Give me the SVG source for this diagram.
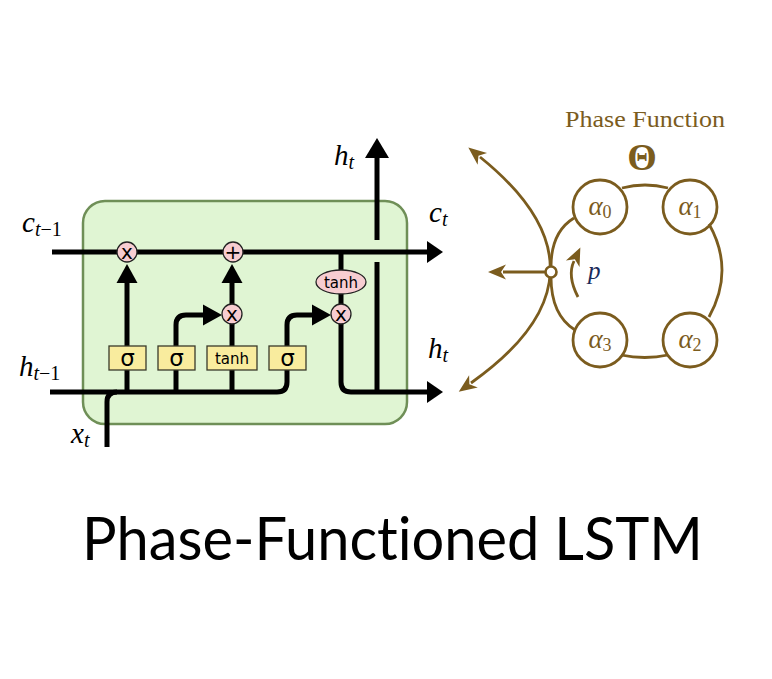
<svg xmlns="http://www.w3.org/2000/svg" width="772" height="679" viewBox="0 0 772 679">
<style>
.ln{fill:none;stroke:#000;stroke-width:5;stroke-linecap:butt}
.gate{fill:#f9ec9e;stroke:#3a3a2a;stroke-width:1.3}
.op{fill:#f7cdd1;stroke:#222;stroke-width:1.3}
.gt{font-family:"DejaVu Sans",sans-serif;fill:#000;text-anchor:middle}
.mi{font-family:"Liberation Serif",serif;font-style:italic;fill:#000}
.br{fill:none;stroke:#7b5c1e;stroke-width:2.8}
.bt{font-family:"Liberation Serif",serif;fill:#7b5c1e}
</style>
<defs>
<marker id="big" markerUnits="userSpaceOnUse" markerWidth="16" markerHeight="22" refX="0" refY="11" orient="auto" overflow="visible"><path d="M0,0 L16,11 L0,22 Z" fill="#000"/></marker>
<marker id="up" markerUnits="userSpaceOnUse" markerWidth="20" markerHeight="24" refX="0" refY="12" orient="auto" overflow="visible"><path d="M0,0 L20,12 L0,24 Z" fill="#000"/></marker>
<marker id="sm" markerUnits="userSpaceOnUse" markerWidth="19" markerHeight="21" refX="0" refY="10.5" orient="auto" overflow="visible"><path d="M0,0 L19,10.5 L0,21 Z" fill="#000"/></marker>
<marker id="ba" markerUnits="userSpaceOnUse" markerWidth="18" markerHeight="15" refX="3" refY="7.5" orient="auto-start-reverse" overflow="visible"><path d="M0,0 L18,7.5 L0,15 L5,7.5 Z" fill="#7b5c1e"/></marker>
</defs>

<g id="cell">
<rect x="83" y="201" width="324" height="223" rx="22" fill="#e0f5d3" stroke="#6f8f57" stroke-width="2.5"/>
</g>

<g id="connectors">
<path class="ln" d="M52,252 H427" marker-end="url(#big)"/>
<path class="ln" d="M50,392 H277 Q287,392 287,382 V370"/>
<path class="ln" d="M107,447 V402 Q107,392 117,392"/>
<path class="ln" d="M127,392 V370"/>
<path class="ln" d="M176,392 V370"/>
<path class="ln" d="M232,392 V370"/>
<path class="ln" d="M127,346 V283" marker-end="url(#sm)"/>
<path class="ln" d="M176,346 V325 Q176,315 186,315 H203" marker-end="url(#sm)"/>
<path class="ln" d="M232,346 V323"/>
<path class="ln" d="M232,305 V283" marker-end="url(#sm)"/>
<path class="ln" d="M287,346 V325 Q287,315 297,315 H312" marker-end="url(#sm)"/>
<path class="ln" d="M341,252 V270"/>
<path class="ln" d="M341,294 V305"/>
<path class="ln" d="M341,323 V382 Q341,392 351,392 H427" marker-end="url(#big)"/>
<path class="ln" d="M377,392 V262"/>
<path class="ln" d="M377,240 V158" marker-end="url(#up)"/>
</g>

<g id="forget-mult"><circle class="op" cx="127" cy="252" r="10"/><text class="gt" x="127" y="258.5" font-size="20">x</text></g>
<g id="add"><circle class="op" cx="233" cy="252" r="10"/><text class="gt" x="233" y="259" font-size="20">+</text></g>
<g id="input-mult"><circle class="op" cx="232" cy="314" r="10"/><text class="gt" x="232" y="320.5" font-size="20">x</text></g>
<g id="output-mult"><circle class="op" cx="341" cy="314" r="10"/><text class="gt" x="341" y="320.5" font-size="20">x</text></g>
<g id="tanh-op"><ellipse class="op" cx="341" cy="282" rx="25" ry="12"/><text class="gt" x="341" y="287.5" font-size="15">tanh</text></g>

<g id="sigma1"><rect class="gate" x="109" y="346" width="37" height="24"/><text class="gt" x="127.5" y="366" font-size="23">σ</text></g>
<g id="sigma2"><rect class="gate" x="158" y="346" width="37" height="24"/><text class="gt" x="176.5" y="366" font-size="23">σ</text></g>
<g id="tanh-gate"><rect class="gate" x="207" y="346" width="50" height="24"/><text class="gt" x="232" y="363.5" font-size="15">tanh</text></g>
<g id="sigma3"><rect class="gate" x="269" y="346" width="37" height="24"/><text class="gt" x="287.5" y="366" font-size="23">σ</text></g>

<g id="labels">
<text class="mi" x="22" y="232" font-size="29">c<tspan font-size="20" dy="4">t</tspan><tspan font-size="20" font-style="normal">−1</tspan></text>
<text class="mi" x="19" y="376" font-size="29">h<tspan font-size="20" dy="4">t</tspan><tspan font-size="20" font-style="normal">−1</tspan></text>
<text class="mi" x="71" y="443" font-size="29">x<tspan font-size="20" dy="4">t</tspan></text>
<text class="mi" x="334" y="165" font-size="29">h<tspan font-size="20" dy="4">t</tspan></text>
<text class="mi" x="429" y="222" font-size="29">c<tspan font-size="20" dy="4">t</tspan></text>
<text class="mi" x="428" y="358" font-size="29">h<tspan font-size="20" dy="4">t</tspan></text>
</g>

<g id="phase-function">
<text class="bt" x="565" y="127" font-size="23" textLength="160" lengthAdjust="spacingAndGlyphs">Phase Function</text>
<text class="bt" x="642" y="170" font-size="38" font-weight="bold" text-anchor="middle">Θ</text>
<path class="br" d="M622,188 Q645,182 668,188"/>
<path class="br" d="M709,224 Q735,270 709,317"/>
<path class="br" d="M621,355 Q645,360 668,355"/>
<path class="br" d="M574,218 Q551,232 551,267"/>
<path class="br" d="M551,277 Q551,315 575,330"/>
<path class="br" d="M480,157 Q625,274 471,383" marker-start="url(#ba)" marker-end="url(#ba)"/>
<path class="br" d="M545,272 H503" marker-end="url(#ba)"/>
<path class="br" d="M578,297 Q567,276 574,261" marker-end="url(#ba)"/>
<circle cx="551" cy="272" r="5.5" fill="#fff" stroke="#7b5c1e" stroke-width="2.6"/>
<text x="588" y="279" font-family="Liberation Serif,serif" font-style="italic" font-size="25" fill="#1a2a5a">p</text>
</g>
<g id="alpha0"><circle class="br" cx="600" cy="207" r="27"/><text class="bt" x="600" y="215" font-size="27" text-anchor="middle"><tspan font-style="italic">α</tspan><tspan font-size="18" dy="3">0</tspan></text></g>
<g id="alpha1"><circle class="br" cx="690" cy="207" r="27"/><text class="bt" x="690" y="215" font-size="27" text-anchor="middle"><tspan font-style="italic">α</tspan><tspan font-size="18" dy="3">1</tspan></text></g>
<g id="alpha2"><circle class="br" cx="690" cy="340" r="27"/><text class="bt" x="690" y="348" font-size="27" text-anchor="middle"><tspan font-style="italic">α</tspan><tspan font-size="18" dy="3">2</tspan></text></g>
<g id="alpha3"><circle class="br" cx="600" cy="340" r="27"/><text class="bt" x="600" y="348" font-size="27" text-anchor="middle"><tspan font-style="italic">α</tspan><tspan font-size="18" dy="3">3</tspan></text></g>

<g id="title">
<text x="82" y="560" font-family="Lato,sans-serif" font-size="60" fill="#000" style="font-variant-ligatures:none" textLength="621" lengthAdjust="spacingAndGlyphs">Phase-Functioned LSTM</text>
</g>
</svg>
